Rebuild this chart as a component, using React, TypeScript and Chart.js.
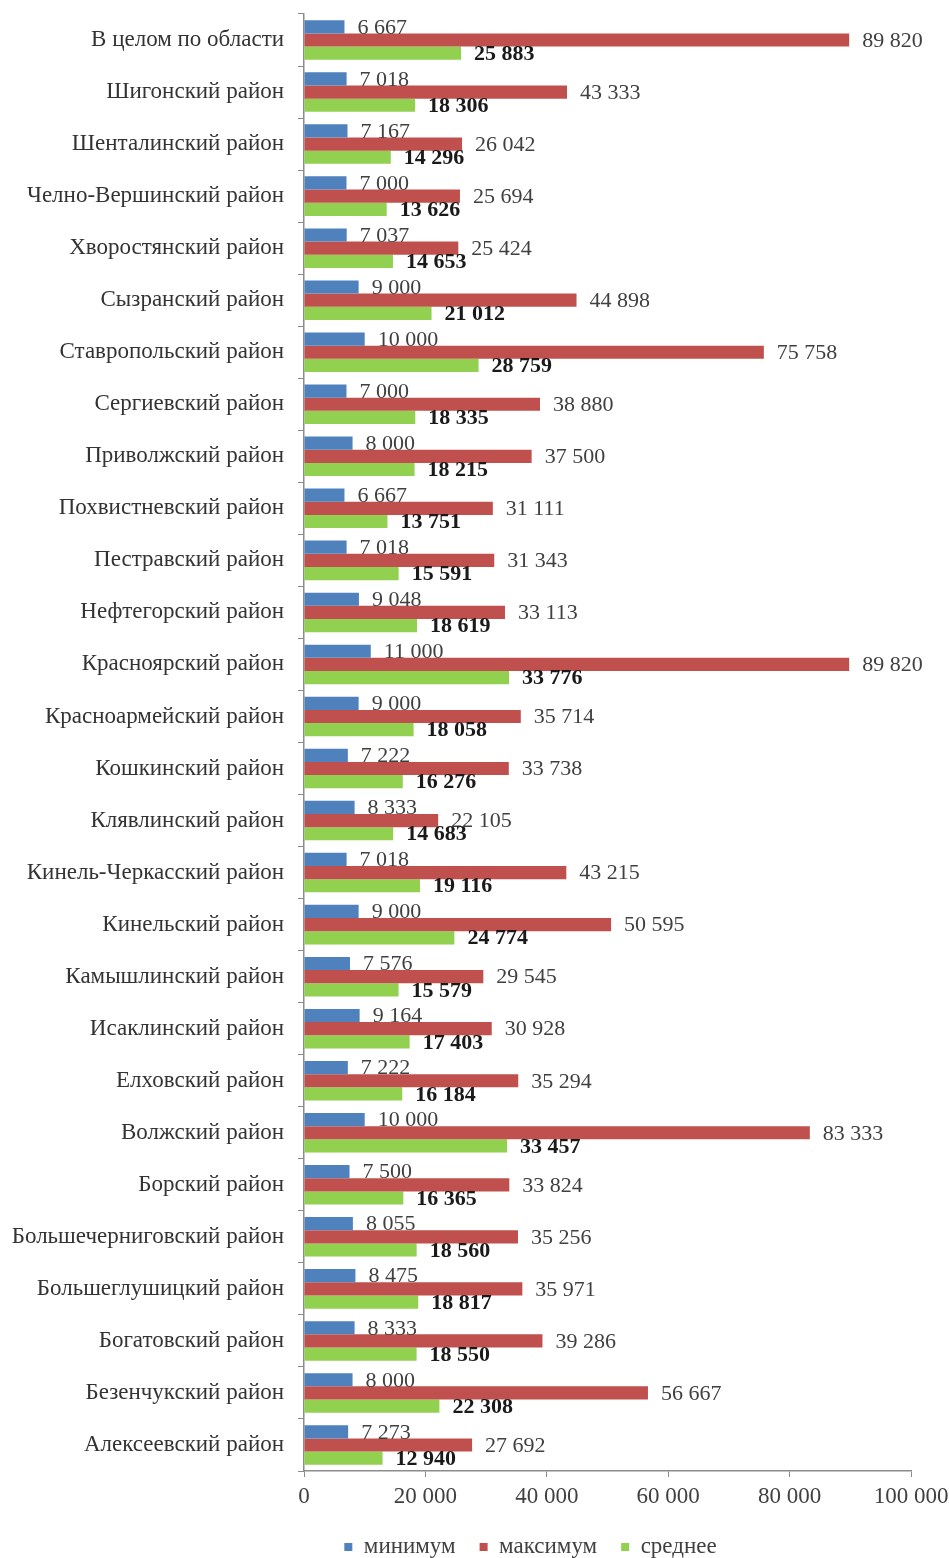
import React, { useEffect, useRef } from "react";
import { Chart, registerables } from "chart.js";

Chart.register(...registerables);

const categories = [
  "В целом по области",
  "Шигонский район",
  "Шенталинский район",
  "Челно-Вершинский район",
  "Хворостянский район",
  "Сызранский район",
  "Ставропольский район",
  "Сергиевский район",
  "Приволжский район",
  "Похвистневский район",
  "Пестравский район",
  "Нефтегорский район",
  "Красноярский район",
  "Красноармейский район",
  "Кошкинский район",
  "Клявлинский район",
  "Кинель-Черкасский район",
  "Кинельский район",
  "Камышлинский район",
  "Исаклинский район",
  "Елховский район",
  "Волжский район",
  "Борский район",
  "Большечерниговский район",
  "Большеглушицкий район",
  "Богатовский район",
  "Безенчукский район",
  "Алексеевский район",
];

const minValues = [
  6667, 7018, 7167, 7000, 7037, 9000, 10000, 7000, 8000, 6667, 7018, 9048, 11000, 9000,
  7222, 8333, 7018, 9000, 7576, 9164, 7222, 10000, 7500, 8055, 8475, 8333, 8000, 7273,
];

const maxValues = [
  89820, 43333, 26042, 25694, 25424, 44898, 75758, 38880, 37500, 31111, 31343, 33113, 89820,
  35714, 33738, 22105, 43215, 50595, 29545, 30928, 35294, 83333, 33824, 35256, 35971, 39286,
  56667, 27692,
];

const avgValues = [
  25883, 18306, 14296, 13626, 14653, 21012, 28759, 18335, 18215, 13751, 15591, 18619, 33776,
  18058, 16276, 14683, 19116, 24774, 15579, 17403, 16184, 33457, 16365, 18560, 18817, 18550,
  22308, 12940,
];

const seriesNames = ["минимум", "максимум", "среднее"];
const xTickValues = [0, 20000, 40000, 60000, 80000, 100000];

const FONT = "'Liberation Serif', 'Times New Roman', serif";
const fmt = (n: number) => String(n).replace(/\B(?=(\d{3})+(?!\d))/g, " ");

const PLOT_LEFT = 304;
const LEGEND_SHIFT = 75;

const valueLabels = {
  id: "valueLabels",
  afterDatasetsDraw(chart: any) {
    const ctx = chart.ctx;
    ctx.save();
    ctx.textBaseline = "middle";
    ctx.textAlign = "left";
    chart.data.datasets.forEach((ds: any, di: number) => {
      const meta = chart.getDatasetMeta(di);
      ctx.font = (di === 2 ? "bold " : "") + "22px " + FONT;
      ctx.fillStyle = di === 2 ? "#1a1a1a" : "#404040";
      meta.data.forEach((el: any, i: number) => {
        ctx.fillText(fmt(ds.data[i]), el.x + 13, el.y + 1);
      });
    });
    ctx.restore();
  },
};

const legendShift = {
  id: "legendShift",
  afterLayout(chart: any) {
    const lg = chart.legend;
    if (lg) {
      lg.left += LEGEND_SHIFT;
      lg.right += LEGEND_SHIFT;
    }
  },
};

export default function App() {
  const ref = useRef<HTMLCanvasElement | null>(null);
  useEffect(() => {
    if (!ref.current) return;
    const chart = new Chart(ref.current, {
      type: "bar",
      data: {
        labels: categories,
        datasets: [
          { label: seriesNames[0], data: minValues, backgroundColor: "#4F81BD" },
          { label: seriesNames[1], data: maxValues, backgroundColor: "#C0504D" },
          { label: seriesNames[2], data: avgValues, backgroundColor: "#92D050" },
        ].map((d) => ({ ...d, barPercentage: 1, categoryPercentage: 0.76 })),
      },
      options: {
        indexAxis: "y",
        animation: false,
        responsive: true,
        maintainAspectRatio: false,
        layout: { padding: { top: 14, right: 38, left: 0, bottom: -10.5 } },
        plugins: {
          tooltip: { enabled: false },
          legend: {
            position: "bottom",
            labels: {
              boxWidth: 8,
              boxHeight: 8,
              padding: 24,
              color: "#404040",
              font: { family: FONT, size: 23 },
            },
          },
        },
        scales: {
          x: {
            min: 0,
            max: 100000,
            afterBuildTicks: (s: any) => {
              s.ticks = xTickValues.map((v) => ({ value: v }));
            },
            afterFit: (s: any) => {
              s.height = 40.5;
              s.paddingLeft = 0;
              s.paddingRight = 0;
            },
            ticks: {
              callback: (v: any) => fmt(Number(v)),
              color: "#404040",
              font: { family: FONT, size: 23 },
              padding: 6,
              maxRotation: 0,
            },
            grid: { drawOnChartArea: false, drawTicks: true, tickLength: 6, color: "#8c8c8c" },
            border: { color: "#8c8c8c", width: 1.5 },
          },
          y: {
            afterFit: (s: any) => {
              s.width = PLOT_LEFT;
              s.paddingTop = 0;
              s.paddingBottom = 0;
            },
            ticks: {
              autoSkip: false,
              color: "#333333",
              font: { family: FONT, size: 23 },
              padding: 14,
            },
            grid: { drawOnChartArea: false, drawTicks: true, tickLength: 6, color: "#8c8c8c", offset: true },
            border: { color: "#8c8c8c", width: 1.5 },
          },
        },
      },
      plugins: [valueLabels, legendShift],
    });
    return () => chart.destroy();
  }, []);
  return (
    <div style={{ position: "absolute", left: 0, top: 0, width: 949, height: 1558, background: "#fff" }}>
      <canvas ref={ref} />
    </div>
  );
}
